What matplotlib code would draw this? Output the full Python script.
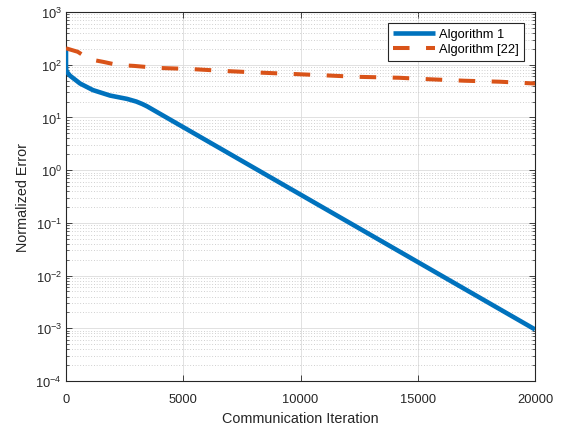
import matplotlib.pyplot as plt
from matplotlib.ticker import LogLocator, NullFormatter, FixedLocator
import numpy as np

plt.rcParams['font.family'] = ['Liberation Sans', 'DejaVu Sans']
plt.rcParams['mathtext.fontset'] = 'custom'
plt.rcParams['mathtext.rm'] = 'Liberation Sans'
plt.rcParams['mathtext.it'] = 'Liberation Sans:italic'
plt.rcParams['mathtext.bf'] = 'Liberation Sans:bold'

# Algorithm 1 (blue, solid)
iter_alg1 = [0, 0, 20, 170, 600, 1150, 1880, 2600, 3000, 3250, 3450, 20000]
err_alg1 = [205, 90, 75, 62, 44, 33, 26, 22.5, 20, 18, 16.3, 9.5e-4]

# Algorithm [22] (orange, dashed)
iter_alg22 = [0, 500, 1000, 1600, 2200, 2900, 3900, 5300, 6800, 8200, 9600,
              11000, 12400, 14200, 15500, 17000, 18500, 20000]
err_alg22 = [205, 176, 127, 113, 99, 95, 87, 83, 76, 71, 67,
             63, 59, 56.6, 53, 49.7, 47.6, 44]

xticks = [0, 5000, 10000, 15000, 20000]

fig = plt.figure(figsize=(5.67, 4.31), dpi=100)
ax = fig.add_axes([0.1164, 0.1137, 0.8272, 0.8561])

ax.semilogy(iter_alg1, err_alg1, color='#0072BD', lw=3.3, label='Algorithm 1',
            solid_capstyle='butt', zorder=3)
ax.semilogy(iter_alg22, err_alg22, color='#D95319', lw=2.9, label='Algorithm [22]',
            dashes=(4.1, 4.1), dash_capstyle='butt', zorder=3)

ax.set_xlim(0, 20000)
ax.set_ylim(1e-4, 1e3)
ax.xaxis.set_major_locator(FixedLocator(xticks))
ax.yaxis.set_major_locator(LogLocator(base=10, numticks=20))
ax.yaxis.set_minor_locator(LogLocator(base=10, subs=np.arange(2, 10), numticks=20))
ax.yaxis.set_minor_formatter(NullFormatter())
ax.xaxis.get_offset_text().set_visible(False)
ax.yaxis.get_offset_text().set_visible(False)

axc = '#262626'
for s in ax.spines.values():
    s.set_color(axc)
    s.set_linewidth(0.8)
ax.tick_params(which='both', direction='in', top=True, right=True,
               colors=axc, labelsize=9.3, labelcolor=axc)
ax.tick_params(which='major', length=4, width=0.6)
ax.tick_params(which='minor', length=2.5, width=0.5)
ax.tick_params(axis='x', pad=9)
ax.tick_params(axis='y', pad=3)

ax.grid(True, which='major', color='#dcdcdc', lw=0.6, ls='-')
ax.grid(True, which='minor', axis='y', color='#c0c0c0', lw=0.6, ls=(0, (1, 2.3)))
ax.set_axisbelow(True)

ax.set_xlabel('Communication Iteration', fontsize=10.4, color=axc, labelpad=4)
ax.set_ylabel('Normalized Error', fontsize=10.4, color=axc, labelpad=4)

leg = ax.legend(loc='upper right', bbox_to_anchor=(0.9765, 0.970), fontsize=9.25,
                fancybox=False, framealpha=1, edgecolor=axc, handlelength=3.27,
                borderpad=0.4, labelspacing=0.25, handletextpad=0.3,
                borderaxespad=0)
leg.get_frame().set_linewidth(0.8)

fig.savefig('out.png', dpi=100)
